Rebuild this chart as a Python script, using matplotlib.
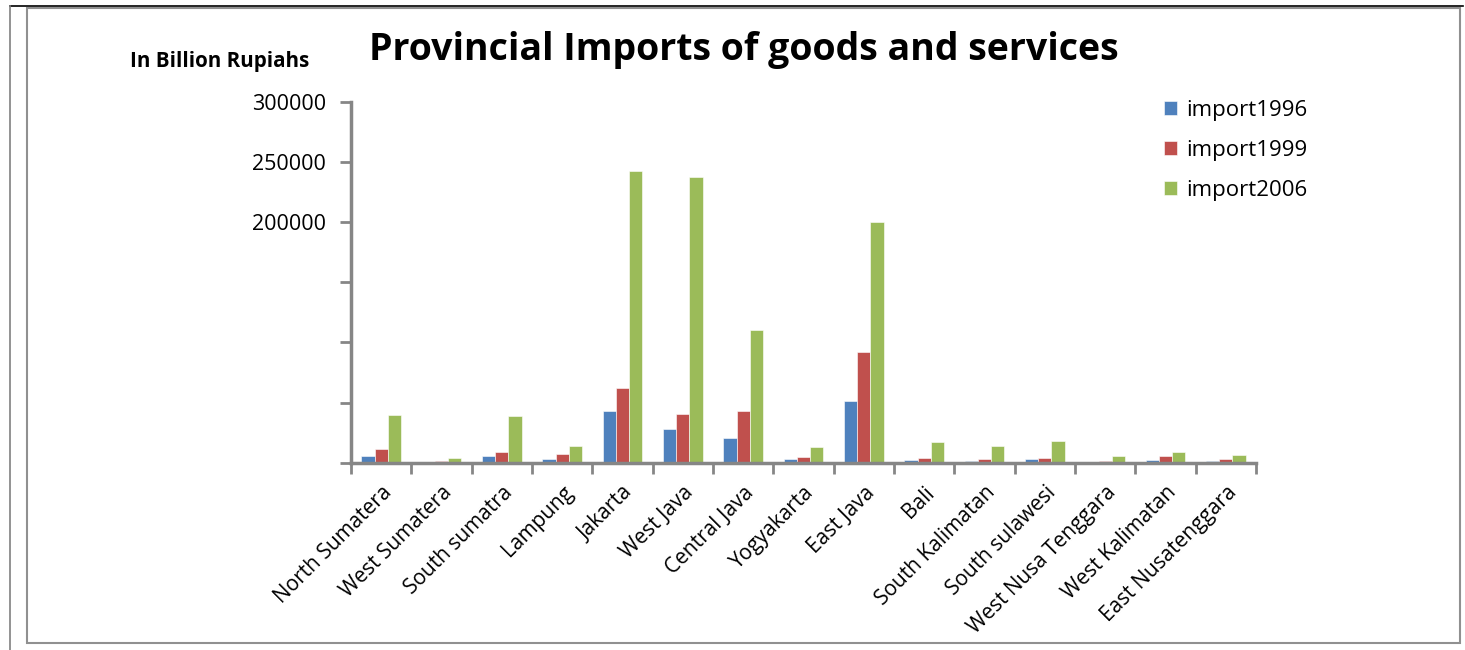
import matplotlib.pyplot as plt
import numpy as np
from matplotlib.patches import Rectangle
from matplotlib.lines import Line2D

provinces = ["North Sumatera", "West Sumatera", "South sumatra", "Lampung",
             "Jakarta", "West Java", "Central Java", "Yogyakarta", "East Java",
             "Bali", "South Kalimatan", "South sulawesi", "West Nusa Tenggara",
             "West Kalimatan", "East Nusatenggara"]
import1996 = [5400, 300, 5400, 2900, 42600, 28400, 20400, 2700, 51700,
              2100, 1800, 2700, 300, 2100, 1000]
import1999 = [11800, 1200, 9000, 7000, 61900, 40600, 42600, 4600, 91800,
              3500, 2900, 3700, 1800, 5200, 2900]
import2006 = [39500, 3500, 38900, 14000, 242300, 237300, 110100, 12900, 199900,
              17600, 14000, 18100, 5700, 8500, 6000]
series_names = ["import1996", "import1999", "import2006"]
colors = ["#4F81BD", "#C0504D", "#9BBB59"]

yticks = [0, 50000, 100000, 150000, 200000, 250000, 300000]
ytick_labels = ["", "", "", "", "200000", "250000", "300000"]

plt.rcParams['font.family'] = ['Open Sans', 'DejaVu Sans']

fig = plt.figure(figsize=(14.65, 6.5), dpi=100)
W, H = 1465, 650

# outer frame
fig.patches.append(Rectangle((27 / W, 1 - 643 / H), (1460 - 27) / W, (643 - 8) / H,
                             transform=fig.transFigure, fill=False,
                             edgecolor="#909090", linewidth=1.5))
fig.lines.append(Line2D([10 / W, 1463 / W], [1 - 6 / H, 1 - 6 / H],
                        transform=fig.transFigure, color="black", linewidth=1.2))
fig.lines.append(Line2D([10 / W, 10 / W], [1 - 6 / H, 0], transform=fig.transFigure,
                        color="#808080", linewidth=1.2))

ax = fig.add_axes([351 / W, 1 - 462.7 / H, (1256 - 351) / W, (462.7 - 102) / H])

x = np.arange(len(provinces))
bw = 0.22
for k, (vals, name, c) in enumerate(zip([import1996, import1999, import2006],
                                        series_names, colors)):
    ax.bar(x + (k - 1) * bw, vals, width=bw, color=c, label=name,
           edgecolor="white", linewidth=0.4)

ax.set_xlim(-0.5, len(provinces) - 0.5)
ax.set_ylim(0, 300000)
ax.set_yticks(yticks)
ax.set_yticklabels(ytick_labels, fontsize=15.5)
ax.set_xticks(x)
ax.set_xticklabels(provinces, rotation=45, ha="right", rotation_mode="anchor",
                   fontsize=15)
ax.tick_params(axis="x", length=0, pad=14)
ax.set_xticks(np.arange(len(provinces) + 1) - 0.5, minor=True)
ax.tick_params(axis="x", which="minor", length=8, width=2, color="#868686")
ax.tick_params(axis="y", length=8, width=2, color="#868686", pad=10)

for s in ["top", "right"]:
    ax.spines[s].set_visible(False)
for s in ["left", "bottom"]:
    ax.spines[s].set_color("#868686")
    ax.spines[s].set_linewidth(2.5)

fig.text(744 / W, 1 - 50 / H, "Provincial Imports of goods and services",
         ha="center", va="center", fontsize=27, fontweight="bold")
fig.text(220 / W, 1 - 62 / H, "In Billion Rupiahs", ha="center", va="center",
         fontsize=14.8, fontweight="bold")

ax.legend(loc="upper left", bbox_to_anchor=(1144 / W, 1 - 80 / H),
          bbox_transform=fig.transFigure, frameon=False, fontsize=16,
          handlelength=0.6, handleheight=0.6, handletextpad=0.4,
          labelspacing=0.85)

fig.savefig("out.png", dpi=100)
